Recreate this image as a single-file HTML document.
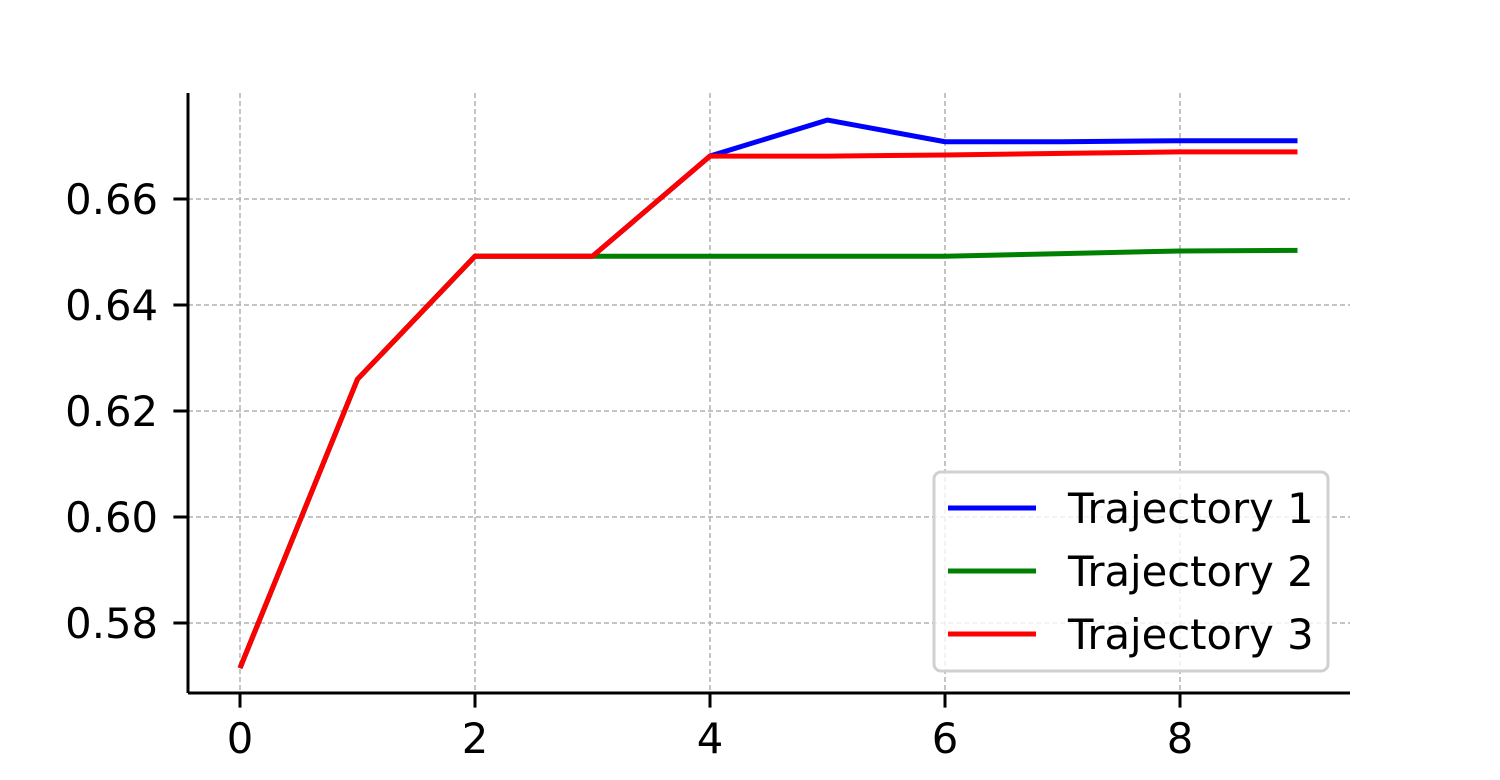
<!DOCTYPE html>
<html><head><meta charset="utf-8"><style>
html,body{margin:0;padding:0;background:#fff;}
svg{display:block;font-family:"DejaVu Sans","Liberation Sans",sans-serif;}
</style></head><body>
<svg id="chart" width="1500" height="780" viewBox="0 0 1500 780" xmlns="http://www.w3.org/2000/svg">
<g id="grid"></g>
<g id="series"></g>
<g id="axes"></g>
<g id="legend"></g>
</svg>
<script>
const xValues = [0,1,2,3,4,5,6,7,8,9];
const traj1 = [0.5715,0.6260,0.6492,0.6492,0.6681,0.6749,0.6708,0.6708,0.6710,0.6710];
const traj2 = [0.5715,0.6260,0.6492,0.6492,0.6492,0.6492,0.6492,0.6497,0.6502,0.6503];
const traj3 = [0.5715,0.6260,0.6492,0.6492,0.6681,0.6681,0.6683,0.6686,0.6689,0.6689];
const seriesNames = ["Trajectory 1","Trajectory 2","Trajectory 3"];
const seriesColors = ["#0000ff","#008000","#ff0000"];
const xTicks = [0,2,4,6,8];
const yTicks = [0.58,0.60,0.62,0.64,0.66];
const yTickLabels = ["0.58","0.60","0.62","0.64","0.66"];

const NS="http://www.w3.org/2000/svg";
const L=188,R=1350,T=93,B=693;
const FS=41.7;
const xs = v => 240 + (v-0)*117.5;
const ys = v => 199 + (0.66-v)*5300;
function mk(tag,attrs,parent){const e=document.createElementNS(NS,tag);for(const k in attrs)e.setAttribute(k,attrs[k]);parent.appendChild(e);return e;}
const grid=document.getElementById('grid'),axes=document.getElementById('axes'),ser=document.getElementById('series'),leg=document.getElementById('legend');

xTicks.forEach(t=>{
  const g=mk('line',{x1:xs(t),x2:xs(t),y1:T,y2:B,stroke:'#b0b0b0','stroke-width':1.5,'stroke-dasharray':'5,3'},grid);
  
  
  const tk=mk('line',{x1:xs(t),x2:xs(t),y1:B,y2:B+14.6,stroke:'#000','stroke-width':3},axes);
  
  
  const tx=mk('text',{x:xs(t),y:753,'text-anchor':'middle','font-size':FS,fill:'#000'},axes);
  tx.textContent=String(t);
  
  
});
yTicks.forEach((t,i)=>{
  const g=mk('line',{x1:L,x2:R,y1:ys(t),y2:ys(t),stroke:'#b0b0b0','stroke-width':1.5,'stroke-dasharray':'5,3'},grid);
  
  
  const tk=mk('line',{x1:L-14.6,x2:L,y1:ys(t),y2:ys(t),stroke:'#000','stroke-width':3},axes);
  
  
  const tx=mk('text',{x:158,y:ys(t)+15,'text-anchor':'end','font-size':FS,fill:'#000'},axes);
  tx.textContent=yTickLabels[i];
  
  
});
const sl=mk('line',{x1:L,x2:L,y1:T,y2:B,stroke:'#000','stroke-width':3},axes);


const sb=mk('line',{x1:L,x2:R,y1:B,y2:B,stroke:'#000','stroke-width':3},axes);



[traj1,traj2,traj3].forEach((d,i)=>{
  const pts=d.map((v,j)=>xs(xValues[j])+','+ys(v)).join(' ');
  const p=mk('polyline',{points:pts,fill:'none',stroke:seriesColors[i],'stroke-width':5,'stroke-linejoin':'round'},ser);
  
  
});

const box=mk('rect',{x:934,y:472,width:394,height:199,rx:7,fill:'#fff','fill-opacity':0.8,stroke:'#d0d0d0','stroke-width':3},leg);


seriesNames.forEach((n,i)=>{
  const y=508+i*63;
  const ln=mk('line',{x1:948,x2:1036,y1:y,y2:y,stroke:seriesColors[i],'stroke-width':5},leg);
  
  
  const tx=mk('text',{x:1068,y:y+15,'font-size':FS,fill:'#000'},leg);
  tx.textContent=n;
  
  
});
</script>
</body></html>
